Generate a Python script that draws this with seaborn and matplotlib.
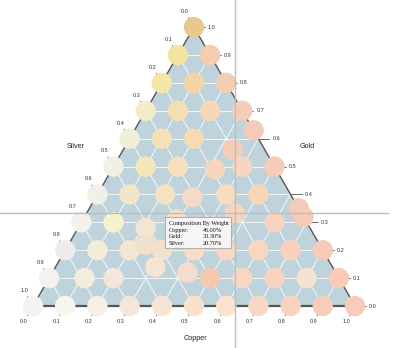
import numpy as np
import pandas as pd
import matplotlib
matplotlib.use("Agg")
import matplotlib.pyplot as plt
from matplotlib.patches import Polygon, Rectangle
import seaborn as sns

# Alloy compositions (weight fractions), one entry per sample
copper = [0.0,
          0.0, 0.1,
          0.0, 0.1, 0.2,
          0.0, 0.1, 0.2, 0.3,
          0.0, 0.1, 0.2, 0.37, 0.34,
          0.0, 0.1, 0.2, 0.32, 0.4, 0.5,
          0.0, 0.1, 0.21, 0.30, 0.4, 0.5, 0.65, 0.68,
          0.0, 0.1, 0.29, 0.21, 0.46, 0.6,
          0.0, 0.1, 0.2, 0.24, 0.3, 0.4, 0.5, 0.6, 0.7, 0.8,
          0.31, 0.42,
          0.0, 0.11, 0.2, 0.5, 0.6, 0.7, 0.8, 0.9,
          0.0, 0.1, 0.2, 0.3, 0.4, 0.5, 0.6, 0.7, 0.8, 0.9, 1.0]
gold = [1.0,
        0.9, 0.9,
        0.8, 0.8, 0.8,
        0.7, 0.7, 0.7, 0.7,
        0.6, 0.6, 0.6, 0.63, 0.56,
        0.5, 0.5, 0.5, 0.49, 0.5, 0.5,
        0.4, 0.4, 0.40, 0.39, 0.4, 0.4, 0.35, 0.32,
        0.3, 0.3, 0.31, 0.28, 0.333, 0.3,
        0.2, 0.2, 0.2, 0.22, 0.2, 0.2, 0.2, 0.2, 0.2, 0.2,
        0.14, 0.12,
        0.1, 0.1, 0.1, 0.1, 0.1, 0.1, 0.1, 0.1,
        0.0, 0.0, 0.0, 0.0, 0.0, 0.0, 0.0, 0.0, 0.0, 0.0, 0.0]
silver = [0.0,
          0.1, 0.0,
          0.2, 0.1, 0.0,
          0.3, 0.2, 0.1, 0.0,
          0.4, 0.3, 0.2, 0.0, 0.10,
          0.5, 0.4, 0.3, 0.19, 0.1, 0.0,
          0.6, 0.5, 0.39, 0.31, 0.2, 0.1, 0.0, 0.0,
          0.7, 0.6, 0.40, 0.51, 0.207, 0.1,
          0.8, 0.7, 0.6, 0.54, 0.5, 0.4, 0.3, 0.2, 0.1, 0.0,
          0.55, 0.46,
          0.9, 0.79, 0.7, 0.4, 0.3, 0.2, 0.1, 0.0,
          1.0, 0.9, 0.8, 0.7, 0.6, 0.5, 0.4, 0.3, 0.2, 0.1, 0.0]

# Fill colour of each sample dot
dot_colors = ["#e9c88b",
              "#f5e49e", "#f5ccb0",
              "#f3e6a6", "#f3d4a6", "#f5cdb2",
              "#f2edc6", "#f4dfb2", "#f6d7b8", "#f4cdb8",
              "#efeed8", "#f4e2b6", "#f5dab4", "#f3cbb8", "#f4cdb6",
              "#f1f0e2", "#f4e6b8", "#f6dfbd", "#f6d6be", "#f6d6c2", "#f4ccb8",
              "#f1f0e6", "#f3e6c8", "#f5e2c2", "#f7d9c8", "#f7dcc0", "#f6d5b8", "#f3cbb8", "#f4ccb8",
              "#f3f1ea", "#f5f3cc", "#f5e0c8", "#f2e5d2", "#f6d5c0", "#f8d4c0",
              "#eeecea", "#f2ecd8", "#f5e6d0", "#f0e1cc", "#f5e0cc", "#f8dcc8", "#f8d8c4", "#f9d6c0", "#f8d0bc", "#f5ccb8",
              "#f6e3d0", "#f5dccc",
              "#f4f2ee", "#f4ecdc", "#f5e6dc", "#f5c9b0", "#f8d6c4", "#f8d4c0", "#f5e2d0", "#f7cbb8",
              "#f5f3f0", "#f7f6ee", "#f7eee6", "#f5e6da", "#f7e4d2", "#f8e2cc", "#fbe2cc", "#f8d8c4", "#f8d4c0", "#f7ccb8", "#f7ccb8"]

tick_values = [0.0, 0.1, 0.2, 0.3, 0.4, 0.5, 0.6, 0.7, 0.8, 0.9, 1.0]
tick_labels = ["0.0", "0.1", "0.2", "0.3", "0.4", "0.5", "0.6", "0.7", "0.8", "0.9", "1.0"]
grid_values = [0.1, 0.2, 0.3, 0.4, 0.5, 0.6, 0.7, 0.8, 0.9]

# Highlighted sample (copper, gold, silver)
hover = (0.46, 0.333, 0.207)
tooltip_title = "Composition By Weight"
tooltip_names = ["Copper:", "Gold:", "Silver:"]

SQ = np.sqrt(3) / 2
SIDE_PX = 322          # triangle side length in pixels
PX = 1.0 / SIDE_PX     # one pixel in data units


def to_xy(cu, au):
    return np.asarray(cu) + np.asarray(au) / 2, np.asarray(au) * SQ


sns.set_style("white")
plt.rcParams["font.family"] = ["Liberation Sans", "DejaVu Sans"]

fig = plt.figure(figsize=(4.0, 3.48), dpi=100)
ax = fig.add_axes([0, 0, 1, 1])
ax.set_xlim(-33 * PX, 367 * PX)
ax.set_ylim(-42 * PX, 306 * PX)
ax.axis("off")

# triangle background
corners = np.array([to_xy(0, 0), to_xy(1, 0), to_xy(0, 1)])
ax.add_patch(Polygon(corners, closed=True, facecolor="#bfd3dc",
                     edgecolor="none", zorder=0))

# grid lines in the three composition directions
for v in grid_values:
    segs = [((0, v), (1 - v, v)),        # constant gold
            ((v, 0), (v, 1 - v)),        # constant copper
            ((1 - v, 0), (0, 1 - v))]    # constant silver
    for (c0, g0), (c1, g1) in segs:
        x0, y0 = to_xy(c0, g0)
        x1, y1 = to_xy(c1, g1)
        ax.plot([x0, x1], [y0, y1], color="white", lw=0.8, alpha=0.75, zorder=1)

# triangle edges
for (c0, g0), (c1, g1), lw in [((0, 0), (1, 0), 1.6), ((0, 0), (0, 1), 1.0), ((1, 0), (0, 1), 1.0)]:
    x0, y0 = to_xy(c0, g0)
    x1, y1 = to_xy(c1, g1)
    ax.plot([x0, x1], [y0, y1], color="#555555", lw=lw, zorder=2, solid_capstyle="butt")

# axis ticks and tick labels
tick_len = 11 * PX
lab_off = 18 * PX
tick_kw = dict(color="#555555", lw=0.6, zorder=2)
text_kw = dict(fontsize=4.0, color="#333333", zorder=2)
for v, lab in zip(tick_values, tick_labels):
    # copper along the bottom edge
    bx, by = to_xy(v, 0)
    d = np.array([-0.5, -SQ])
    ax.plot([bx, bx + d[0] * tick_len], [by, by + d[1] * tick_len], **tick_kw)
    ax.text(bx + d[0] * lab_off, by + d[1] * lab_off, lab, ha="center", va="center", **text_kw)
    # silver along the left edge
    bx, by = to_xy(0, 1 - v)
    d = np.array([-0.5, SQ])
    ax.plot([bx, bx + d[0] * tick_len], [by, by + d[1] * tick_len], **tick_kw)
    ax.text(bx + d[0] * lab_off, by + d[1] * lab_off, lab, ha="center", va="center", **text_kw)
    # gold along the right edge
    bx, by = to_xy(1 - v, v)
    ax.plot([bx, bx + tick_len], [by, by], **tick_kw)
    ax.text(bx + 14 * PX, by, lab, ha="left", va="center", **text_kw)

# axis titles
title_kw = dict(fontsize=5.2, color="#222222", ha="center", va="center")
mx, my = to_xy(0, 0.5)
ax.text(mx - 38 * PX, my + 20 * PX, "Silver", **title_kw)
mx, my = to_xy(0.5, 0.5)
ax.text(mx + 33 * PX, my + 20 * PX, "Gold", **title_kw)
mx, my = to_xy(0.5, 0)
ax.text(mx + 2 * PX, my - 32 * PX, "Copper", **title_kw)

# sample dots
df = pd.DataFrame({"copper": copper, "gold": gold, "silver": silver})
df["x"], df["y"] = to_xy(df["copper"], df["gold"])
df["sample"] = [f"s{i}" for i in range(len(df))]
palette = dict(zip(df["sample"], dot_colors))
sns.scatterplot(data=df, x="x", y="y", hue="sample", palette=palette,
                s=215, linewidth=0, legend=False, ax=ax, zorder=3)

# crosshair on the highlighted sample
hx, hy = to_xy(hover[0], hover[1])
ax.plot([hx, hx], [ax.get_ylim()[0], ax.get_ylim()[1]], color="#bdbdbd", lw=1.0, zorder=4)
ax.plot([ax.get_xlim()[0], ax.get_xlim()[0] + 388 * PX], [hy, hy], color="#bdbdbd", lw=1.0, zorder=4)

# tooltip box below-left of the highlighted sample
box_w, box_h = 66 * PX, 31 * PX
bx0 = hx - 4 * PX - box_w
by1 = hy - 4 * PX
ax.add_patch(Rectangle((bx0, by1 - box_h), box_w, box_h, facecolor="#f6f6f6",
                       edgecolor="#b0b0b0", lw=0.8, zorder=5))
serif = ["Liberation Serif", "DejaVu Serif"]
tip_kw = dict(fontsize=4.4, color="#111111", family=serif, va="center", ha="left", zorder=6)
ax.text(bx0 + 4 * PX, by1 - 6 * PX, tooltip_title, **tip_kw)
for i, (name, val) in enumerate(zip(tooltip_names, hover)):
    ty = by1 - (13 + 6.7 * i) * PX
    ax.text(bx0 + 4 * PX, ty, name, **tip_kw)
    ax.text(bx0 + 38 * PX, ty, f"{val * 100:.2f}%", **tip_kw)

fig.savefig("out.png", dpi=100)
